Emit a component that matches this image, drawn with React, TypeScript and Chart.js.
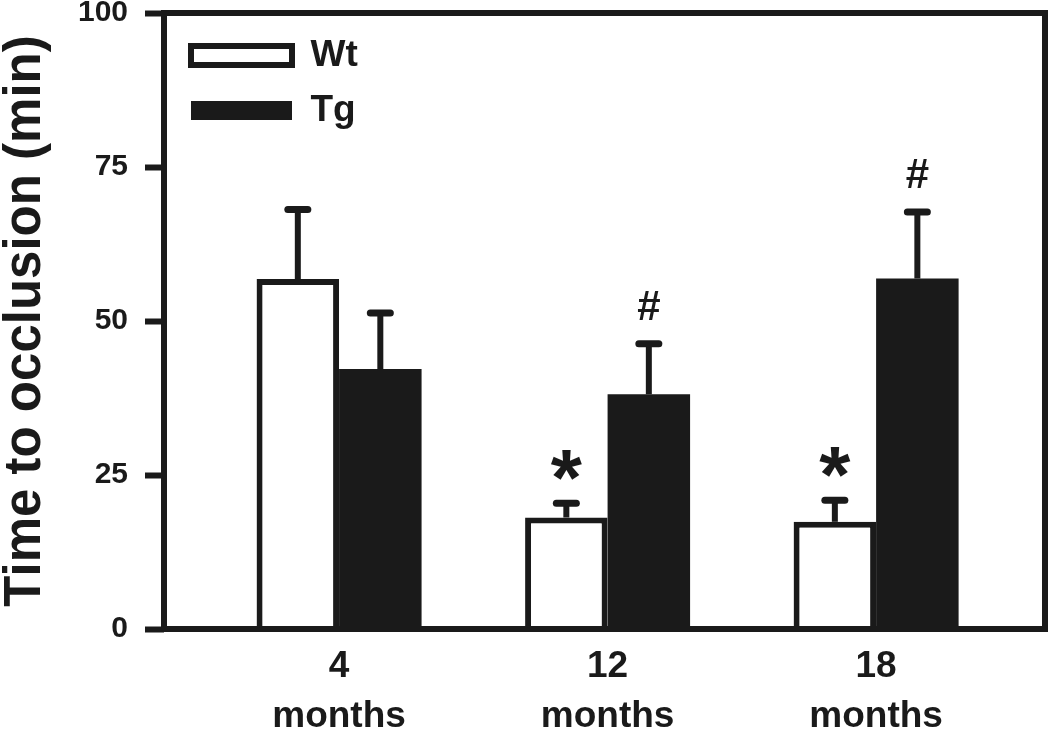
import React, { useEffect, useRef } from 'react';
import { Chart, registerables } from 'chart.js';

Chart.register(...registerables);

// ---- data ----
const categoryIndex = [0, 1, 2];
const categoryLabels = [['4', 'months'], ['12', 'months'], ['18', 'months']];
const wtMeans = [56.8, 18.1, 17.4];
const wtSem = [11.3, 2.3, 3.5];
const tgMeans = [42.2, 38.1, 56.9];
const tgSem = [9.1, 8.2, 10.8];
const wtMarks = ['', '*', '*'];
const tgMarks = ['', '#', '#'];
const yMin = 0;
const yMax = 100;
const yStep = 25;

const INK = '#1a1a1a';
const FONT = "'Liberation Sans', Arial, Helvetica, sans-serif";

const overlay = {
  id: 'overlay',
  afterLayout(chart: any) {
    // place the in-plot legend near the top-left corner of the plot frame
    if (chart.legend) {
      chart.legend.left = chart.chartArea.left + 9;
      chart.legend.top = chart.chartArea.top + 6;
    }
  },
  afterDatasetsDraw(chart: any) {
    const { ctx, chartArea, scales } = chart;
    const y = scales.y;
    ctx.save();
    ctx.strokeStyle = INK;
    ctx.lineWidth = 6;
    ctx.lineJoin = 'miter';
    ctx.strokeRect(
      chartArea.left,
      chartArea.top,
      chartArea.right - chartArea.left,
      chartArea.bottom - chartArea.top
    );
    const sets = [
      { sem: wtSem, marks: wtMarks, markFont: `bold 80px ${FONT}` },
      { sem: tgSem, marks: tgMarks, markFont: `bold 42px ${FONT}` },
    ];
    sets.forEach((s, di) => {
      const meta = chart.getDatasetMeta(di);
      const data = chart.data.datasets[di].data;
      meta.data.forEach((bar: any, i: number) => {
        const v = data[i].y;
        const topPx = y.getPixelForValue(v + s.sem[i]);
        const x = bar.x;
        ctx.strokeStyle = INK;
        ctx.lineCap = 'butt';
        ctx.lineWidth = 6;
        ctx.beginPath();
        ctx.moveTo(x, bar.y);
        ctx.lineTo(x, topPx);
        ctx.stroke();
        ctx.lineWidth = 7;
        ctx.lineCap = 'round';
        ctx.beginPath();
        ctx.moveTo(x - 10, topPx);
        ctx.lineTo(x + 10, topPx);
        ctx.stroke();
        const mark = s.marks[i];
        if (mark) {
          ctx.font = s.markFont;
          ctx.fillStyle = INK;
          ctx.textAlign = 'center';
          ctx.textBaseline = 'alphabetic';
          const m = ctx.measureText(mark);
          const cy = topPx - 38;
          const baseline = cy + (m.actualBoundingBoxAscent - m.actualBoundingBoxDescent) / 2;
          ctx.fillText(mark, x, baseline);
        }
      });
    });
    ctx.restore();
  },
};

export default function App() {
  const ref = useRef<HTMLCanvasElement | null>(null);

  useEffect(() => {
    if (!ref.current) return;
    const chart = new Chart(ref.current, {
      type: 'bar',
      data: {
        datasets: [
          {
            label: 'Wt',
            data: categoryIndex.map((c, i) => ({ x: c, y: wtMeans[i] })),
            backgroundColor: '#ffffff',
            borderColor: INK,
            borderWidth: 6,
            categoryPercentage: 0.6145,
            barPercentage: 1,
          },
          {
            label: 'Tg',
            data: categoryIndex.map((c, i) => ({ x: c, y: tgMeans[i] })),
            backgroundColor: INK,
            borderColor: INK,
            borderWidth: 0,
            categoryPercentage: 0.6145,
            barPercentage: 1,
          },
        ],
      },
      options: {
        responsive: false,
        devicePixelRatio: 1,
        animation: false,
        layout: { padding: { left: 0, right: 5, top: 13, bottom: 0 } },
        plugins: {
          legend: {
            position: 'chartArea',
            align: 'start',
            labels: {
              boxWidth: 101,
              boxHeight: 19,
              padding: 18,
              color: INK,
              font: { family: FONT, size: 37, weight: 'bold' },
            },
          },
          tooltip: { enabled: false },
        },
        scales: {
          x: {
            type: 'linear',
            offset: false,
            min: -0.652,
            max: 2.629,
            grid: { display: false, drawTicks: false, offset: false },
            border: { display: false },
            afterBuildTicks: (a: any) => {
              a.ticks = categoryIndex.map((v) => ({ value: v }));
            },
            afterFit: (s: any) => {
              s.height = 103;
              s.paddingLeft = 0;
              s.paddingRight = 0;
            },
            ticks: {
              autoSkip: false,
              maxRotation: 0,
              minRotation: 0,
              padding: 13,
              color: INK,
              font: { family: FONT, size: 37, weight: 'bold', lineHeight: 50 / 37 },
              callback: (v: any) => categoryLabels[v as number] ?? '',
            },
          },
          y: {
            min: yMin,
            max: yMax,
            grid: {
              display: true,
              drawOnChartArea: false,
              drawTicks: true,
              tickLength: 19,
              tickWidth: 6,
              tickColor: INK,
            },
            border: { display: false },
            afterFit: (s: any) => {
              s.width = 164;
              s.paddingTop = 0;
              s.paddingBottom = 0;
            },
            ticks: {
              stepSize: yStep,
              padding: 17,
              color: INK,
              font: { family: FONT, size: 30, weight: 'bold' },
            },
            title: {
              display: true,
              text: 'Time to occlusion (min)',
              color: INK,
              padding: 0,
              font: { family: FONT, size: 51, weight: 'bold', lineHeight: 1 },
            },
          },
        },
      },
      plugins: [overlay],
    } as any);
    return () => chart.destroy();
  }, []);

  return (
    <div style={{ position: 'fixed', left: 0, top: 0, width: 1050, height: 732, background: '#fff' }}>
      <canvas ref={ref} width={1050} height={732} style={{ display: 'block' }} />
    </div>
  );
}
